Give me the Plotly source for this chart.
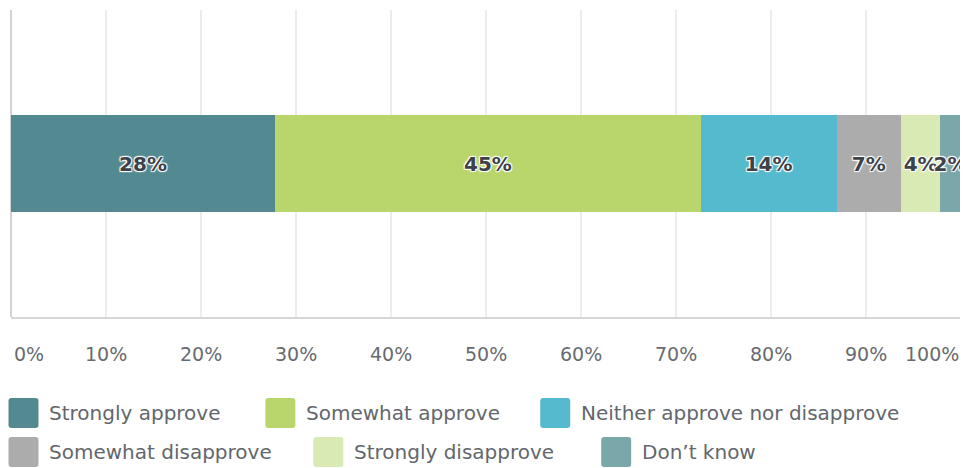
import plotly.graph_objects as go

# survey answers, share of respondents (%)
answers = ["Strongly approve", "Somewhat approve", "Neither approve nor disapprove",
           "Somewhat disapprove", "Strongly disapprove", "Don’t know"]
shares = [27.8, 44.8, 14.3, 6.8, 4.1, 2.2]
colors = ["#538a91", "#b8d66b", "#55bacd", "#acacad", "#d9eab4", "#7aa7aa"]
tick_vals = [0, 10, 20, 30, 40, 50, 60, 70, 80, 90, 100]
tick_text = ["0%", "10%", "20%", "30%", "40%", "50%", "60%", "70%", "80%", "90%", "100%"]

# page has an 8px body margin, so the figure sits at (8, 8)
OFF = 8
W, H = 968 - OFF, 468 - OFF
PL, PR, PT, PB = 10.5, 961, 10, 317   # plot box in page pixels
ML, MT = PL - OFF, PT - OFF
MR, MB = W - (PR - OFF), H - (PB - OFF)
PW, PH = PR - PL, PB - PT


def px_x(x):
    return (x - PL) / PW


def px_y(y):
    return (PB - y) / PH


halo = "1px 1px 1px #fff, -1px -1px 1px #fff, 1px -1px 1px #fff, -1px 1px 1px #fff"
font = "DejaVu Sans"

fig = go.Figure()
for name, v, c in zip(answers, shares, colors):
    fig.add_trace(go.Bar(
        x=[v], y=[0], orientation="h", name=name,
        marker=dict(color=c, line=dict(width=0)),
        width=0.313,
        text=[f"{round(v)}%"], textposition="inside", insidetextanchor="middle",
        constraintext="none", textangle=0,
        textfont=dict(family=font, size=20, color="#3b4249", weight="bold", shadow=halo),
        showlegend=False, hoverinfo="name+x",
    ))

annotations = []
for tv, tt in zip(tick_vals, tick_text):
    anchor = "center"
    shift = 0
    if tv == tick_vals[0]:
        anchor, shift = "left", 1
    elif tv == tick_vals[-1]:
        anchor = "right"
    annotations.append(dict(x=tv, y=px_y(354), xref="x", yref="paper", text=tt,
                            showarrow=False, xanchor=anchor, yanchor="middle", xshift=shift,
                            font=dict(family=font, size=19, color="#676b70")))

# legend, drawn by hand to get the large rounded swatches
leg_pos = [(8, 413), (265, 413), (540, 413), (8, 452), (313, 452), (601, 452)]
sq = ("M -12,-15 H 12 Q 15,-15 15,-12 V 12 Q 15,15 12,15 H -12 "
      "Q -15,15 -15,12 V -12 Q -15,-15 -12,-15 Z")
shapes = []
for (lx, ly), name, c in zip(leg_pos, answers, colors):
    shapes.append(dict(type="path", xref="paper", yref="paper",
                       xsizemode="pixel", ysizemode="pixel",
                       xanchor=px_x(lx + 15), yanchor=px_y(ly), path=sq,
                       fillcolor=c, line=dict(width=0)))
    annotations.append(dict(x=px_x(lx + 39), y=px_y(ly), xref="paper", yref="paper",
                            text=name, showarrow=False, xanchor="left", yanchor="middle",
                            font=dict(family=font, size=20, color="#63676c")))

fig.update_layout(
    width=W, height=H,
    margin=dict(l=ML, r=MR, t=MT, b=MB, pad=0),
    barmode="stack",
    plot_bgcolor="white", paper_bgcolor="white",
    xaxis=dict(range=[0, 100], tickvals=tick_vals, showticklabels=False,
               showgrid=True, gridcolor="#ececec", gridwidth=1.5,
               zeroline=True, zerolinecolor="#d2d2d2", zerolinewidth=1.5,
               showline=True, linecolor="#d6d6d6", linewidth=1.5, fixedrange=True),
    yaxis=dict(range=[-0.5, 0.5], visible=False, fixedrange=True),
    annotations=annotations,
    shapes=shapes,
)

fig.write_html("out.html")
